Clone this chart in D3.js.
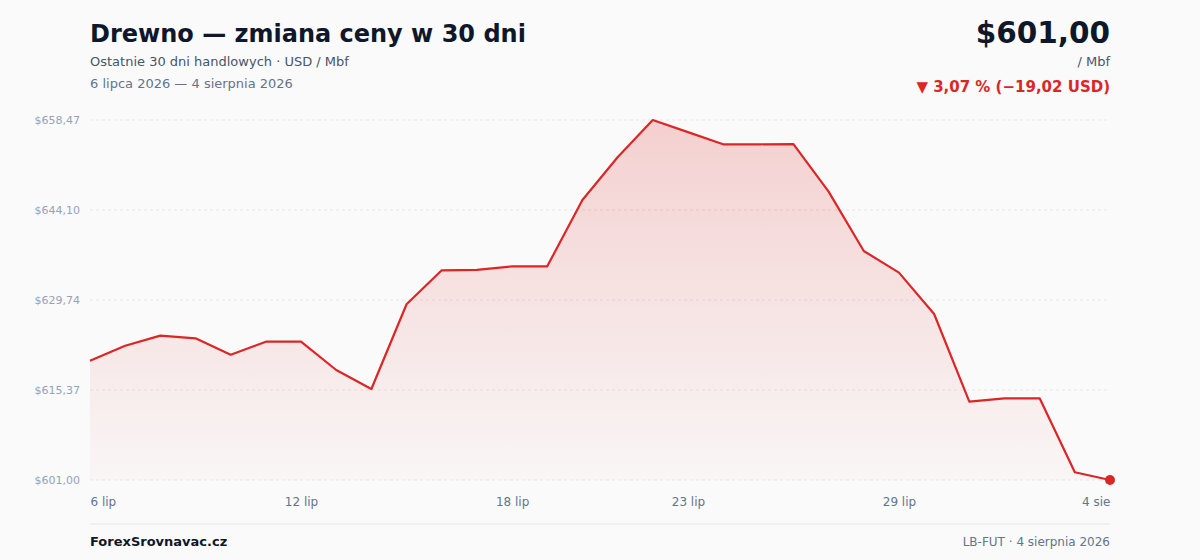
<!DOCTYPE html>
<html><head><meta charset="utf-8">
<script src="https://cdn.jsdelivr.net/npm/d3@7"></script>
<style>
html,body{margin:0;padding:0;background:#fafafa;}
svg{display:block;font-family:"DejaVu Sans",sans-serif;}
</style></head>
<body>
<svg id="c" width="1200" height="560"></svg>
<script>
const dates = ["6 lip","7 lip","8 lip","9 lip","10 lip","11 lip","12 lip","13 lip","14 lip","15 lip","16 lip","17 lip","18 lip","19 lip","20 lip","21 lip","22 lip","23 lip","24 lip","25 lip","26 lip","27 lip","28 lip","29 lip","30 lip","31 lip","1 sie","2 sie","3 sie","4 sie"];
const prices = [620.02,622.44,624.04,623.62,621.00,623.08,623.08,618.56,615.53,629.05,634.48,634.55,635.11,635.11,645.70,652.52,658.47,656.53,654.59,654.59,654.62,647.03,637.56,634.10,627.50,613.50,614.04,614.04,602.23,601.00];
const xTickLabels = ["6 lip","12 lip","18 lip","23 lip","29 lip","4 sie"];
const yTickValues = [601.00,615.37,629.74,644.10,658.47];
const yTickLabels = ["$601,00","$615,37","$629,74","$644,10","$658,47"];

const svg = d3.select("#c");
const L = 90, R = 1110, T = 120, B = 480;
const x = d3.scalePoint().domain(dates).range([L, R]);
const y = d3.scaleLinear().domain([601.00, 658.47]).range([B, T]);

const defs = svg.append("defs");
const g = defs.append("linearGradient").attr("id","ag").attr("x1",0).attr("y1",0).attr("x2",0).attr("y2",1);
g.append("stop").attr("offset","0%").attr("stop-color","#dc2626").attr("stop-opacity",0.2);
g.append("stop").attr("offset","100%").attr("stop-color","#dc2626").attr("stop-opacity",0.02);

// grid
const yAxis = d3.axisLeft(y).tickValues(yTickValues).tickSize(0).tickPadding(10)
  .tickFormat((d,i)=>yTickLabels[i]);
const ya = svg.append("g").attr("transform",`translate(${L},0)`).call(yAxis);
ya.select(".domain").remove();
ya.selectAll("text").attr("fill","#94a3b8").style("font-size","11px").style("font-family","DejaVu Sans");
svg.append("g").selectAll("line").data(yTickValues).join("line")
  .attr("x1",L).attr("x2",R).attr("y1",d=>y(d)).attr("y2",d=>y(d))
  .attr("stroke","#e5e7eb").attr("stroke-width",1).attr("stroke-dasharray","3 3");

// area & line
const data = dates.map((d,i)=>({d, v:prices[i]}));
svg.append("path").datum(data)
  .attr("d", d3.area().x(p=>x(p.d)).y0(B).y1(p=>y(p.v)))
  .attr("fill","url(#ag)");
svg.append("path").datum(data)
  .attr("d", d3.line().x(p=>x(p.d)).y(p=>y(p.v)))
  .attr("fill","none").attr("stroke","#dc2626").attr("stroke-width",2.2).attr("stroke-linejoin","round");
const last = data[data.length-1];
svg.append("circle").attr("cx",x(last.d)).attr("cy",y(last.v)).attr("r",5).attr("fill","#dc2626");

// x axis
const xAxis = d3.axisBottom(x).tickValues(xTickLabels).tickSize(0).tickPadding(0);
const xa = svg.append("g").attr("transform",`translate(0,${B})`).call(xAxis);
xa.select(".domain").remove();
xa.selectAll("text").attr("fill","#64748b").style("font-size","12px").style("font-family","DejaVu Sans")
  .attr("dy",null).attr("y",26)
  .attr("text-anchor",(d,i)=> i===0 ? "start" : (i===xTickLabels.length-1 ? "end" : "middle"));

// header
svg.append("text").attr("x",90).attr("y",42).text("Drewno — zmiana ceny w 30 dni")
  .attr("fill","#0f172a").style("font-size","24px").style("font-weight","bold");
svg.append("text").attr("x",90).attr("y",66).text("Ostatnie 30 dni handlowych · USD / Mbf")
  .attr("fill","#475569").style("font-size","13px");
svg.append("text").attr("x",90).attr("y",88).text("6 lipca 2026 — 4 sierpnia 2026")
  .attr("fill","#64748b").style("font-size","13px");
svg.append("text").attr("x",1110).attr("y",43).attr("text-anchor","end").text("$601,00")
  .attr("fill","#0f172a").style("font-size","29.5px").style("font-weight","bold");
svg.append("text").attr("x",1110).attr("y",66).attr("text-anchor","end").text("/ Mbf")
  .attr("fill","#475569").style("font-size","13px");
svg.append("text").attr("x",1110).attr("y",92).attr("text-anchor","end").text("▼ 3,07 % (−19,02 USD)")
  .attr("fill","#dc2626").style("font-size","15px").style("font-weight","bold");

// footer
svg.append("line").attr("x1",90).attr("x2",1110).attr("y1",524).attr("y2",524)
  .attr("stroke","#e5e7eb").attr("stroke-width",1);
svg.append("text").attr("x",90).attr("y",546).text("ForexSrovnavac.cz")
  .attr("fill","#0f172a").style("font-size","13px").style("font-weight","bold");
svg.append("text").attr("x",1110).attr("y",546).attr("text-anchor","end").text("LB-FUT · 4 sierpnia 2026")
  .attr("fill","#64748b").style("font-size","12px");
</script>
</body></html>
